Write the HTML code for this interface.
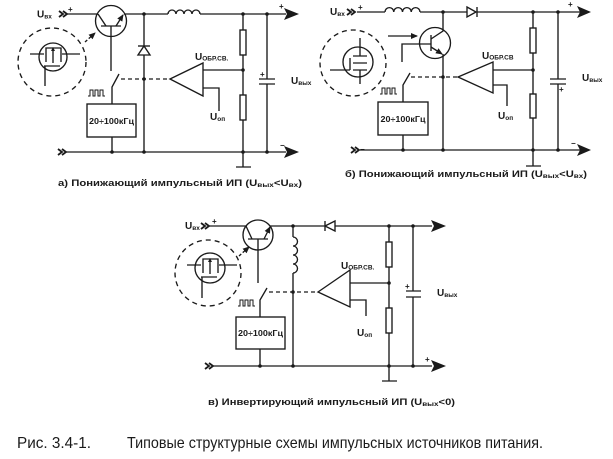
<!DOCTYPE html>
<html><head><meta charset="utf-8">
<style>
html,body{margin:0;padding:0;background:#fff;}
svg{display:block}
text{font-family:"Liberation Sans","DejaVu Sans",sans-serif;fill:#1a1a1a;}
.lb{font-size:10px;font-weight:bold}
.sb{font-size:6.5px;font-weight:bold}
.cap{font-size:9px;font-weight:bold}
.cs{font-size:6.5px;font-weight:bold}
.bx{font-size:8px;font-weight:bold}
.sg{font-size:8px;font-weight:bold}
.fig{font-size:16px}
</style></head>
<body>
<svg width="613" height="459" viewBox="0 0 613 459" xmlns="http://www.w3.org/2000/svg">
<defs>
<marker id="ah" markerUnits="userSpaceOnUse" markerWidth="7" markerHeight="7" refX="6" refY="3.5" orient="auto"><path d="M0,0.5 L7,3.5 L0,6.5 Z" fill="#1a1a1a"/></marker>
</defs>

<!-- ================= Diagram A ================= -->
<g stroke="#1a1a1a" stroke-width="1.35" fill="none">
  <path d="M59,11 L63,14 L59,17 M63,11 L67,14 L63,17" stroke-width="1.8"/>
  <path d="M58,149 L62,152 L58,155 M62,149 L66,152 L62,155" stroke-width="1.8"/>
  <path d="M67,14 H98"/>
  <path d="M124,14 H168"/>
  <path d="M168,14 a4,4 0 0 1 8,0 a4,4 0 0 1 8,0 a4,4 0 0 1 8,0 a4,4 0 0 1 8,0"/>
  <path d="M200,14 H286"/>
  <circle cx="111" cy="21" r="15.5"/>
  <path d="M101,26 H121"/>
  <path d="M98,14 L106,26"/>
  <path d="M116,26 L123,15" marker-end="url(#ah)"/>
  <path d="M111,26 V71"/>
  <path d="M144,14 V152"/>
  <path d="M138,55 L150,55 L144,46 Z" fill="#fff"/>
  <path d="M138,46 H150"/>
  <path d="M243,14 V152"/>
  <rect x="240" y="30" width="6" height="25" fill="#fff"/>
  <rect x="240" y="95" width="6" height="25" fill="#fff"/>
  <path d="M267,14 V79 M267,84 V152 M259,79 H275 M259,84 H275"/>
  <path d="M66,152 H286"/>
  <path d="M243,152 V167 M236,167 H251"/>
  <rect x="87" y="104" width="49" height="33"/>
  <path d="M112,137 V152"/>
  <path d="M112,104 V87 L119,74"/>
  <path d="M88,96 h2 v-6 h3 v6 h2 v-6 h3 v6 h2 v-6 h3 v6 h2" stroke-width="1"/>
  <path d="M121,79 H170" stroke-dasharray="4 3"/>
  <path d="M170,79 L203,63 L203,96 Z"/>
  <path d="M203,70 H243 M203,88 H219 V111"/>
  <circle cx="52" cy="62" r="34" stroke-dasharray="5 4"/>
  <circle cx="53" cy="57" r="14"/>
  <path d="M30,54 H44 M62,54 H80"/>
  <path d="M46,62 V48 H61 V62"/>
  <path d="M53,51 V63"/>
  <path d="M44,66 H60 M45,66 V86"/>
  <path d="M85,42 L95,33" stroke-dasharray="3 2" marker-end="url(#ah)"/>
</g>
<g fill="#1a1a1a">
  <path d="M284,8 L299,14 L284,20 L287,14 Z"/>
  <path d="M284,146 L299,152 L284,158 L287,152 Z"/>
  <circle cx="144" cy="14" r="1.8"/><circle cx="243" cy="14" r="1.8"/><circle cx="267" cy="14" r="1.8"/>
  <circle cx="144" cy="79" r="1.8"/><circle cx="243" cy="70" r="1.8"/>
  <circle cx="112" cy="152" r="1.8"/><circle cx="144" cy="152" r="1.8"/><circle cx="243" cy="152" r="1.8"/><circle cx="267" cy="152" r="1.8"/>
  <path d="M51,51 L53,47 L55,51 Z"/>
</g>
<text class="lb" x="37" y="17.5">U<tspan class="sb" dy="1">вх</tspan></text>
<text class="sg" x="68" y="12">+</text>
<text class="sg" x="279" y="9">+</text>
<text class="sg" x="280" y="148">−</text>
<text class="sg" x="260" y="77">+</text>
<text class="lb" x="195" y="60">U<tspan class="sb" dy="0.5">ОБР.СВ.</tspan></text>
<text class="lb" x="210" y="120">U<tspan class="sb" dy="1">оп</tspan></text>
<text class="lb" x="291" y="84">U<tspan class="sb" dy="1">вых</tspan></text>
<text class="bx" x="111.5" y="124" text-anchor="middle" textLength="45" lengthAdjust="spacingAndGlyphs">20÷100кГц</text>
<text class="cap" x="58" y="186" textLength="244" lengthAdjust="spacingAndGlyphs">а)  Понижающий импульсный ИП (U<tspan class="cs" dy="1">вых</tspan><tspan dy="-1">&lt;U</tspan><tspan class="cs" dy="1">вх</tspan><tspan dy="-1">)</tspan></text>

<!-- ================= Diagram B ================= -->
<g stroke="#1a1a1a" stroke-width="1.35" fill="none">
  <path d="M347,9 L351,12 L347,15 M351,9 L355,12 L351,15" stroke-width="1.8"/>
  <path d="M351,147 L355,150 L351,153 M355,147 L359,150 L355,153" stroke-width="1.8"/>
  <path d="M357,12 H385"/>
  <path d="M385,12 a4.375,4.375 0 0 1 8.75,0 a4.375,4.375 0 0 1 8.75,0 a4.375,4.375 0 0 1 8.75,0 a4.375,4.375 0 0 1 8.75,0"/>
  <path d="M420,12 H467"/>
  <path d="M467,7 L476,12 L467,17 Z" fill="#fff"/>
  <path d="M477,7 V17"/>
  <path d="M477,12 H580"/>
  <circle cx="435" cy="43" r="15.5"/>
  <path d="M431,35 V51"/>
  <path d="M402,62 V44 H431"/>
  <path d="M431,39 L443,31 V12"/>
  <path d="M431,47 L442,54" marker-end="url(#ah)"/>
  <path d="M443,54 V150"/>
  <path d="M403,102 V85 L410,73"/>
  <rect x="378" y="102" width="50" height="33"/>
  <path d="M403,135 V150"/>
  <path d="M380,94 h2 v-6 h3 v6 h2 v-6 h3 v6 h2 v-6 h3 v6 h2" stroke-width="1"/>
  <path d="M411,77 H458" stroke-dasharray="4 3"/>
  <path d="M458,77 L493,62 L493,93 Z"/>
  <path d="M493,70 H533 M493,85 H507 V106"/>
  <path d="M533,12 V150"/>
  <rect x="530" y="28" width="6" height="25" fill="#fff"/>
  <rect x="530" y="94" width="6" height="24" fill="#fff"/>
  <path d="M558,12 V79 M558,84 V150 M550,79 H566 M550,84 H566"/>
  <path d="M360,150 H580"/>
  <path d="M533,150 V166 M526,166 H541"/>
  <circle cx="353" cy="63" r="33" stroke-dasharray="5 4"/>
  <circle cx="358" cy="62" r="15"/>
  <path d="M330,70 H350 M350,70 V58"/>
  <path d="M353,56 H367 M353,63 H367 M353,70 H367"/>
  <path d="M360,38 V56 M360,70 V84"/>
  <path d="M388,36 H417" marker-end="url(#ah)"/>
</g>
<g fill="#1a1a1a">
  <path d="M577,6 L591,12 L577,18 L580,12 Z"/>
  <path d="M577,144 L591,150 L577,156 L580,150 Z"/>
  <circle cx="443" cy="12" r="1.8"/><circle cx="533" cy="12" r="1.8"/><circle cx="558" cy="12" r="1.8"/>
  <circle cx="443" cy="77" r="1.8"/><circle cx="533" cy="70" r="1.8"/>
  <circle cx="403" cy="150" r="1.8"/><circle cx="443" cy="150" r="1.8"/><circle cx="533" cy="150" r="1.8"/><circle cx="558" cy="150" r="1.8"/>
</g>
<text class="lb" x="330" y="15">U<tspan class="sb" dy="1">вх</tspan></text>
<text class="sg" x="358" y="10">+</text>
<text class="sg" x="360" y="152">−</text>
<text class="sg" x="568" y="7">+</text>
<text class="sg" x="571" y="146">−</text>
<text class="sg" x="559" y="92">+</text>
<text class="lb" x="482" y="59">U<tspan class="sb" dy="0.5">ОБР.СВ</tspan></text>
<text class="lb" x="498" y="119">U<tspan class="sb" dy="1">оп</tspan></text>
<text class="lb" x="582" y="81">U<tspan class="sb" dy="1">вых</tspan></text>
<text class="bx" x="403" y="122" text-anchor="middle" textLength="45" lengthAdjust="spacingAndGlyphs">20÷100кГц</text>
<text class="cap" x="345" y="177" textLength="242" lengthAdjust="spacingAndGlyphs">б)  Понижающий импульсный ИП (U<tspan class="cs" dy="1">вых</tspan><tspan dy="-1">&lt;U</tspan><tspan class="cs" dy="1">вх</tspan><tspan dy="-1">)</tspan></text>

<!-- ================= Diagram C ================= -->
<g stroke="#1a1a1a" stroke-width="1.35" fill="none">
  <path d="M201,223 L205,226 L201,229 M205,223 L209,226 L205,229" stroke-width="1.8"/>
  <path d="M205,363 L209,366 L205,369 M209,363 L213,366 L209,369" stroke-width="1.8"/>
  <path d="M209,226 H246 M270,226 H325 M335,226 H432"/>
  <circle cx="258" cy="235" r="15"/>
  <path d="M248,239 H268"/>
  <path d="M246,226 L252,239"/>
  <path d="M264,239 L270,227" marker-end="url(#ah)"/>
  <path d="M258,239 V283"/>
  <path d="M293,226 V237"/>
  <path d="M293,237 a4.5,4.5 0 0 1 0,9 a4.5,4.5 0 0 1 0,9 a4.5,4.5 0 0 1 0,9 a4.5,4.5 0 0 1 0,9"/>
  <path d="M293,273 V366"/>
  <path d="M325,226 L335,221 L335,231 Z" fill="#fff"/>
  <path d="M325,221 V231"/>
  <path d="M389,226 V366"/>
  <rect x="386" y="242" width="6" height="25" fill="#fff"/>
  <rect x="386" y="308" width="6" height="25" fill="#fff"/>
  <path d="M413,226 V291 M413,297 V366 M406,291 H421 M406,297 H421"/>
  <path d="M213,366 H432"/>
  <path d="M389,366 V381 M382,381 H397"/>
  <rect x="236" y="317" width="49" height="32"/>
  <path d="M260,349 V366"/>
  <path d="M260,317 V300 L267,288"/>
  <path d="M238,306 h2 v-6 h3 v6 h2 v-6 h3 v6 h2 v-6 h3 v6 h2" stroke-width="1"/>
  <path d="M269,292 H318" stroke-dasharray="4 3"/>
  <path d="M318,292 L350,270 L350,307 Z"/>
  <path d="M350,283 H389 M350,300 H366 V316"/>
  <circle cx="208" cy="273" r="33" stroke-dasharray="5 4"/>
  <circle cx="210" cy="268" r="15"/>
  <path d="M187,265 H201 M219,265 H237"/>
  <path d="M203,273 V259 H218 V273"/>
  <path d="M210,262 V274"/>
  <path d="M201,277 H217 M202,277 V298"/>
  <path d="M239,256 L249,247" stroke-dasharray="3 2" marker-end="url(#ah)"/>
</g>
<g fill="#1a1a1a">
  <path d="M431,220 L446,226 L431,232 L434,226 Z"/>
  <path d="M431,360 L446,366 L431,372 L434,366 Z"/>
  <circle cx="293" cy="226" r="1.8"/><circle cx="389" cy="226" r="1.8"/><circle cx="413" cy="226" r="1.8"/>
  <circle cx="293" cy="292" r="1.8"/><circle cx="389" cy="283" r="1.8"/>
  <circle cx="260" cy="366" r="1.8"/><circle cx="293" cy="366" r="1.8"/><circle cx="389" cy="366" r="1.8"/><circle cx="413" cy="366" r="1.8"/>
  <path d="M208,262 L210,258 L212,262 Z"/>
</g>
<text class="lb" x="185" y="229">U<tspan class="sb" dy="1">вх</tspan></text>
<text class="sg" x="212" y="224">+</text>
<text class="sg" x="425" y="362">+</text>
<text class="sg" x="405" y="289">+</text>
<text class="lb" x="341" y="269">U<tspan class="sb" dy="0.5">ОБР.СВ.</tspan></text>
<text class="lb" x="357" y="336">U<tspan class="sb" dy="1">оп</tspan></text>
<text class="lb" x="437" y="296">U<tspan class="sb" dy="1">вых</tspan></text>
<text class="bx" x="260.5" y="336" text-anchor="middle" textLength="45" lengthAdjust="spacingAndGlyphs">20÷100кГц</text>
<text class="cap" x="208" y="405" textLength="247" lengthAdjust="spacingAndGlyphs">в)  Инвертирующий импульсный ИП (U<tspan class="cs" dy="1">вых</tspan><tspan dy="-1">&lt;0)</tspan></text>

<!-- ================= Figure caption ================= -->
<text class="fig" x="17" y="448" textLength="74" lengthAdjust="spacingAndGlyphs">Рис. 3.4-1.</text>
<text class="fig" x="127" y="448" textLength="416" lengthAdjust="spacingAndGlyphs">Типовые структурные схемы импульсных источников питания.</text>
</svg>
</body></html>
